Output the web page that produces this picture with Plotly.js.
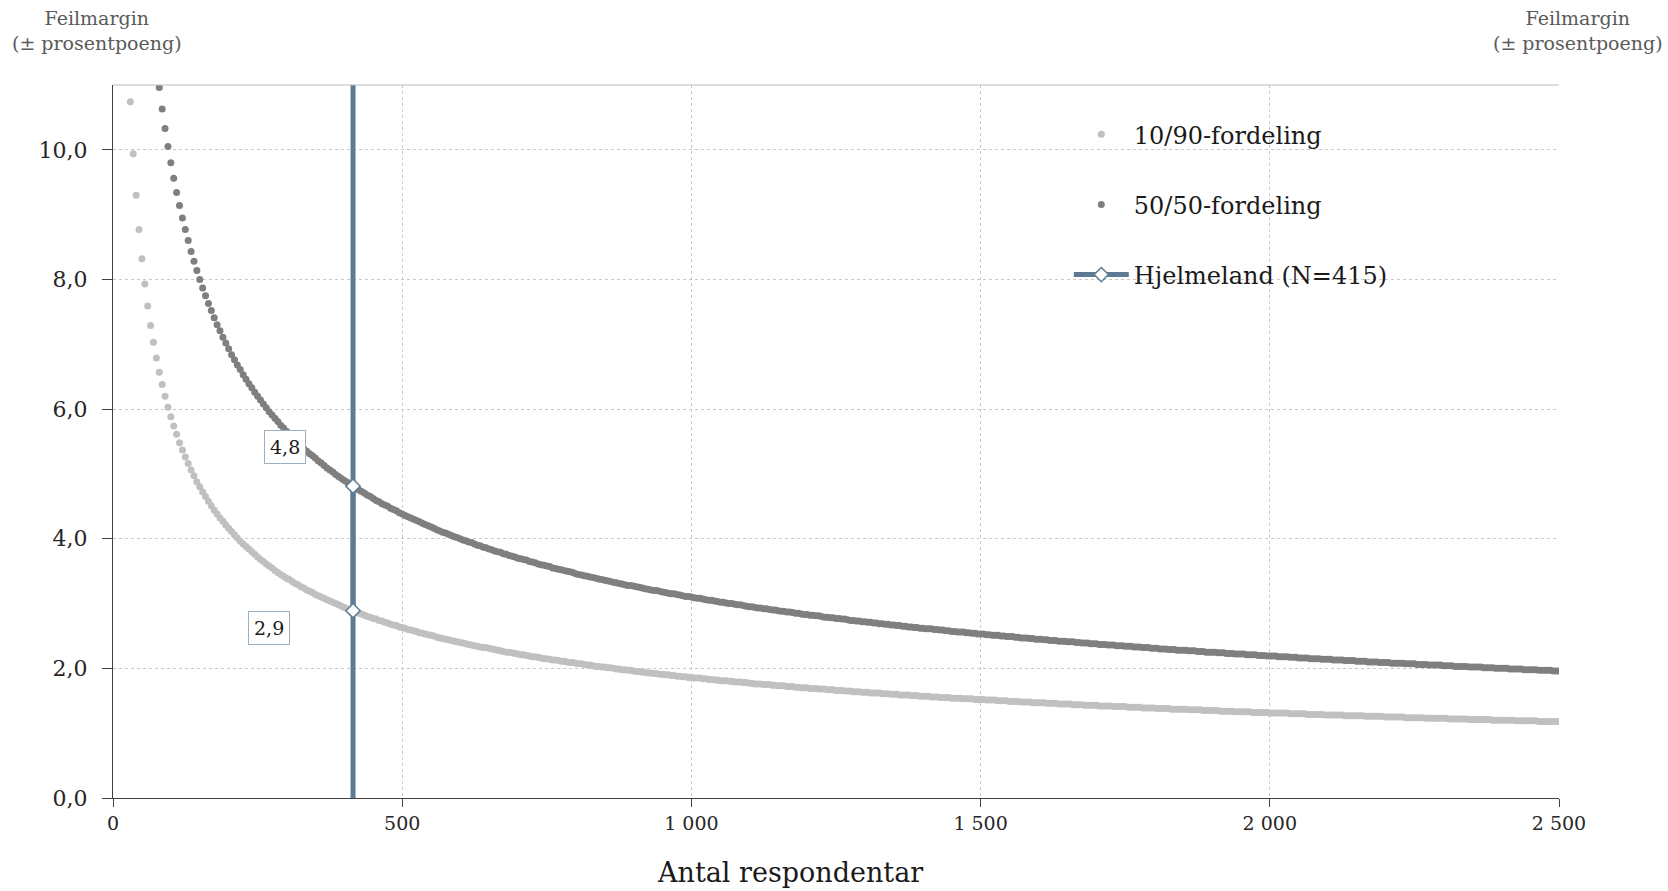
<!DOCTYPE html>
<html>
<head>
<meta charset="utf-8">
<script src="https://cdn.plot.ly/plotly-3.0.1.min.js"></script>
<style>html,body{margin:0;padding:0;background:#fff;}#chart{width:1668px;height:891px;}</style>
</head>
<body>
<div id="chart"></div>
<script>
// Antal respondentar (n), step 5
const respondentar = [
30,35,40,45,50,55,60,65,70,75,80,85,90,95,100,105,110,115,120,125,
130,135,140,145,150,155,160,165,170,175,180,185,190,195,200,205,210,215,220,225,
230,235,240,245,250,255,260,265,270,275,280,285,290,295,300,305,310,315,320,325,
330,335,340,345,350,355,360,365,370,375,380,385,390,395,400,405,410,415,420,425,
430,435,440,445,450,455,460,465,470,475,480,485,490,495,500,505,510,515,520,525,
530,535,540,545,550,555,560,565,570,575,580,585,590,595,600,605,610,615,620,625,
630,635,640,645,650,655,660,665,670,675,680,685,690,695,700,705,710,715,720,725,
730,735,740,745,750,755,760,765,770,775,780,785,790,795,800,805,810,815,820,825,
830,835,840,845,850,855,860,865,870,875,880,885,890,895,900,905,910,915,920,925,
930,935,940,945,950,955,960,965,970,975,980,985,990,995,1000,1005,1010,1015,1020,1025,
1030,1035,1040,1045,1050,1055,1060,1065,1070,1075,1080,1085,1090,1095,1100,1105,1110,1115,1120,1125,
1130,1135,1140,1145,1150,1155,1160,1165,1170,1175,1180,1185,1190,1195,1200,1205,1210,1215,1220,1225,
1230,1235,1240,1245,1250,1255,1260,1265,1270,1275,1280,1285,1290,1295,1300,1305,1310,1315,1320,1325,
1330,1335,1340,1345,1350,1355,1360,1365,1370,1375,1380,1385,1390,1395,1400,1405,1410,1415,1420,1425,
1430,1435,1440,1445,1450,1455,1460,1465,1470,1475,1480,1485,1490,1495,1500,1505,1510,1515,1520,1525,
1530,1535,1540,1545,1550,1555,1560,1565,1570,1575,1580,1585,1590,1595,1600,1605,1610,1615,1620,1625,
1630,1635,1640,1645,1650,1655,1660,1665,1670,1675,1680,1685,1690,1695,1700,1705,1710,1715,1720,1725,
1730,1735,1740,1745,1750,1755,1760,1765,1770,1775,1780,1785,1790,1795,1800,1805,1810,1815,1820,1825,
1830,1835,1840,1845,1850,1855,1860,1865,1870,1875,1880,1885,1890,1895,1900,1905,1910,1915,1920,1925,
1930,1935,1940,1945,1950,1955,1960,1965,1970,1975,1980,1985,1990,1995,2000,2005,2010,2015,2020,2025,
2030,2035,2040,2045,2050,2055,2060,2065,2070,2075,2080,2085,2090,2095,2100,2105,2110,2115,2120,2125,
2130,2135,2140,2145,2150,2155,2160,2165,2170,2175,2180,2185,2190,2195,2200,2205,2210,2215,2220,2225,
2230,2235,2240,2245,2250,2255,2260,2265,2270,2275,2280,2285,2290,2295,2300,2305,2310,2315,2320,2325,
2330,2335,2340,2345,2350,2355,2360,2365,2370,2375,2380,2385,2390,2395,2400,2405,2410,2415,2420,2425,
2430,2435,2440,2445,2450,2455,2460,2465,2470,2475,2480,2485,2490,2495,2500
];

// Feilmargin 10/90-fordeling, n = 30 ... 2500
const fordeling1090 = [
10.74,9.94,9.30,8.77,8.32,7.93,7.59,7.29,7.03,6.79,
6.57,6.38,6.20,6.03,5.88,5.74,5.61,5.48,5.37,5.26,
5.16,5.06,4.97,4.88,4.80,4.72,4.65,4.58,4.51,4.44,
4.38,4.32,4.27,4.21,4.16,4.11,4.06,4.01,3.96,3.92,
3.88,3.84,3.80,3.76,3.72,3.68,3.65,3.61,3.58,3.55,
3.51,3.48,3.45,3.42,3.39,3.37,3.34,3.31,3.29,3.26,
3.24,3.21,3.19,3.17,3.14,3.12,3.10,3.08,3.06,3.04,
3.02,3.00,2.98,2.96,2.94,2.92,2.90,2.89,2.87,2.85,
2.84,2.82,2.80,2.79,2.77,2.76,2.74,2.73,2.71,2.70,
2.68,2.67,2.66,2.64,2.63,2.62,2.60,2.59,2.58,2.57,
2.55,2.54,2.53,2.52,2.51,2.50,2.48,2.47,2.46,2.45,
2.44,2.43,2.42,2.41,2.40,2.39,2.38,2.37,2.36,2.35,
2.34,2.33,2.32,2.32,2.31,2.30,2.29,2.28,2.27,2.26,
2.25,2.25,2.24,2.23,2.22,2.21,2.21,2.20,2.19,2.18,
2.18,2.17,2.16,2.15,2.15,2.14,2.13,2.13,2.12,2.11,
2.11,2.10,2.09,2.09,2.08,2.07,2.07,2.06,2.05,2.05,
2.04,2.03,2.03,2.02,2.02,2.01,2.01,2.00,1.99,1.99,
1.98,1.98,1.97,1.97,1.96,1.95,1.95,1.94,1.94,1.93,
1.93,1.92,1.92,1.91,1.91,1.90,1.90,1.89,1.89,1.88,
1.88,1.87,1.87,1.86,1.86,1.85,1.85,1.85,1.84,1.84,
1.83,1.83,1.82,1.82,1.81,1.81,1.81,1.80,1.80,1.79,
1.79,1.79,1.78,1.78,1.77,1.77,1.76,1.76,1.76,1.75,
1.75,1.75,1.74,1.74,1.73,1.73,1.73,1.72,1.72,1.72,
1.71,1.71,1.70,1.70,1.70,1.69,1.69,1.69,1.68,1.68,
1.68,1.67,1.67,1.67,1.66,1.66,1.66,1.65,1.65,1.65,
1.64,1.64,1.64,1.63,1.63,1.63,1.62,1.62,1.62,1.62,
1.61,1.61,1.61,1.60,1.60,1.60,1.59,1.59,1.59,1.59,
1.58,1.58,1.58,1.57,1.57,1.57,1.57,1.56,1.56,1.56,
1.55,1.55,1.55,1.55,1.54,1.54,1.54,1.54,1.53,1.53,
1.53,1.53,1.52,1.52,1.52,1.52,1.51,1.51,1.51,1.51,
1.50,1.50,1.50,1.50,1.49,1.49,1.49,1.49,1.48,1.48,
1.48,1.48,1.47,1.47,1.47,1.47,1.47,1.46,1.46,1.46,
1.46,1.45,1.45,1.45,1.45,1.45,1.44,1.44,1.44,1.44,
1.43,1.43,1.43,1.43,1.43,1.42,1.42,1.42,1.42,1.42,
1.41,1.41,1.41,1.41,1.41,1.40,1.40,1.40,1.40,1.40,
1.39,1.39,1.39,1.39,1.39,1.38,1.38,1.38,1.38,1.38,
1.37,1.37,1.37,1.37,1.37,1.37,1.36,1.36,1.36,1.36,
1.36,1.35,1.35,1.35,1.35,1.35,1.35,1.34,1.34,1.34,
1.34,1.34,1.33,1.33,1.33,1.33,1.33,1.33,1.32,1.32,
1.32,1.32,1.32,1.32,1.31,1.31,1.31,1.31,1.31,1.31,
1.31,1.30,1.30,1.30,1.30,1.30,1.30,1.29,1.29,1.29,
1.29,1.29,1.29,1.28,1.28,1.28,1.28,1.28,1.28,1.28,
1.27,1.27,1.27,1.27,1.27,1.27,1.27,1.26,1.26,1.26,
1.26,1.26,1.26,1.26,1.25,1.25,1.25,1.25,1.25,1.25,
1.25,1.24,1.24,1.24,1.24,1.24,1.24,1.24,1.23,1.23,
1.23,1.23,1.23,1.23,1.23,1.23,1.22,1.22,1.22,1.22,
1.22,1.22,1.22,1.21,1.21,1.21,1.21,1.21,1.21,1.21,
1.21,1.20,1.20,1.20,1.20,1.20,1.20,1.20,1.20,1.19,
1.19,1.19,1.19,1.19,1.19,1.19,1.19,1.18,1.18,1.18,
1.18,1.18,1.18,1.18,1.18
];

// Feilmargin 50/50-fordeling, n = 80 ... 2500
const fordeling5050 = [
10.96,10.63,10.33,10.05,9.80,9.56,9.34,9.14,8.95,8.77,
8.60,8.43,8.28,8.14,8.00,7.87,7.75,7.63,7.52,7.41,
7.30,7.21,7.11,7.02,6.93,6.84,6.76,6.68,6.61,6.53,
6.46,6.39,6.33,6.26,6.20,6.14,6.08,6.02,5.96,5.91,
5.86,5.81,5.75,5.71,5.66,5.61,5.57,5.52,5.48,5.44,
5.39,5.35,5.31,5.28,5.24,5.20,5.17,5.13,5.09,5.06,
5.03,4.99,4.96,4.93,4.90,4.87,4.84,4.81,4.78,4.75,
4.73,4.70,4.67,4.65,4.62,4.59,4.57,4.54,4.52,4.50,
4.47,4.45,4.43,4.40,4.38,4.36,4.34,4.32,4.30,4.28,
4.26,4.24,4.22,4.20,4.18,4.16,4.14,4.12,4.10,4.09,
4.07,4.05,4.03,4.02,4.00,3.98,3.97,3.95,3.94,3.92,
3.90,3.89,3.87,3.86,3.84,3.83,3.81,3.80,3.79,3.77,
3.76,3.74,3.73,3.72,3.70,3.69,3.68,3.67,3.65,3.64,
3.63,3.61,3.60,3.59,3.58,3.57,3.55,3.54,3.53,3.52,
3.51,3.50,3.49,3.48,3.46,3.45,3.44,3.43,3.42,3.41,
3.40,3.39,3.38,3.37,3.36,3.35,3.34,3.33,3.32,3.31,
3.30,3.29,3.28,3.28,3.27,3.26,3.25,3.24,3.23,3.22,
3.21,3.20,3.20,3.19,3.18,3.17,3.16,3.15,3.15,3.14,
3.13,3.12,3.11,3.11,3.10,3.09,3.08,3.08,3.07,3.06,
3.05,3.05,3.04,3.03,3.02,3.02,3.01,3.00,3.00,2.99,
2.98,2.98,2.97,2.96,2.95,2.95,2.94,2.93,2.93,2.92,
2.92,2.91,2.90,2.90,2.89,2.88,2.88,2.87,2.87,2.86,
2.85,2.85,2.84,2.83,2.83,2.82,2.82,2.81,2.81,2.80,
2.79,2.79,2.78,2.78,2.77,2.77,2.76,2.76,2.75,2.74,
2.74,2.73,2.73,2.72,2.72,2.71,2.71,2.70,2.70,2.69,
2.69,2.68,2.68,2.67,2.67,2.66,2.66,2.65,2.65,2.64,
2.64,2.63,2.63,2.62,2.62,2.61,2.61,2.61,2.60,2.60,
2.59,2.59,2.58,2.58,2.57,2.57,2.56,2.56,2.56,2.55,
2.55,2.54,2.54,2.53,2.53,2.53,2.52,2.52,2.51,2.51,
2.51,2.50,2.50,2.49,2.49,2.49,2.48,2.48,2.47,2.47,
2.47,2.46,2.46,2.45,2.45,2.45,2.44,2.44,2.43,2.43,
2.43,2.42,2.42,2.42,2.41,2.41,2.41,2.40,2.40,2.39,
2.39,2.39,2.38,2.38,2.38,2.37,2.37,2.37,2.36,2.36,
2.36,2.35,2.35,2.35,2.34,2.34,2.34,2.33,2.33,2.33,
2.32,2.32,2.32,2.31,2.31,2.31,2.30,2.30,2.30,2.29,
2.29,2.29,2.28,2.28,2.28,2.28,2.27,2.27,2.27,2.26,
2.26,2.26,2.25,2.25,2.25,2.25,2.24,2.24,2.24,2.23,
2.23,2.23,2.22,2.22,2.22,2.22,2.21,2.21,2.21,2.21,
2.20,2.20,2.20,2.19,2.19,2.19,2.19,2.18,2.18,2.18,
2.18,2.17,2.17,2.17,2.16,2.16,2.16,2.16,2.15,2.15,
2.15,2.15,2.14,2.14,2.14,2.14,2.13,2.13,2.13,2.13,
2.12,2.12,2.12,2.12,2.11,2.11,2.11,2.11,2.10,2.10,
2.10,2.10,2.09,2.09,2.09,2.09,2.08,2.08,2.08,2.08,
2.08,2.07,2.07,2.07,2.07,2.06,2.06,2.06,2.06,2.05,
2.05,2.05,2.05,2.05,2.04,2.04,2.04,2.04,2.03,2.03,
2.03,2.03,2.03,2.02,2.02,2.02,2.02,2.02,2.01,2.01,
2.01,2.01,2.00,2.00,2.00,2.00,2.00,1.99,1.99,1.99,
1.99,1.99,1.98,1.98,1.98,1.98,1.98,1.97,1.97,1.97,
1.97,1.97,1.96,1.96,1.96
];

const seriesNames = ['10/90-fordeling', '50/50-fordeling', 'Hjelmeland (N=415)'];
const hjelmelandN = 415;
const yTicks = [0, 2, 4, 6, 8, 10];
const xTicks = [0, 500, 1000, 1500, 2000, 2500];
const yRange = [0, 11];
const xRange = [0, 2500];

// derived
const x5050 = respondentar.slice(respondentar.length - fordeling5050.length);
const idx1090 = respondentar.indexOf(hjelmelandN);
const idx5050 = x5050.indexOf(hjelmelandN);
const m1090 = fordeling1090[idx1090];
const m5050 = fordeling5050[idx5050];
const fmt = v => v.toFixed(1).replace('.', ',');

const FONT = 'DejaVu Serif';
const BLUE = '#5e7b93';

const traces = [
  {
    x: respondentar, y: fordeling1090, type: 'scatter', mode: 'markers',
    name: seriesNames[0], legendgroup: 'a',
    marker: {color: '#c0c0c0', size: 7, line: {width: 0}}
  },
  {
    x: x5050, y: fordeling5050, type: 'scatter', mode: 'markers',
    name: seriesNames[1], legendgroup: 'b',
    marker: {color: '#7f7f7f', size: 7, line: {width: 0}}
  },
  {
    x: [hjelmelandN, hjelmelandN], y: yRange, type: 'scatter', mode: 'lines',
    name: seriesNames[2], legendgroup: 'c', showlegend: false,
    line: {color: BLUE, width: 5}, hoverinfo: 'skip'
  },
  {
    x: [hjelmelandN, hjelmelandN], y: [m1090, m5050], type: 'scatter', mode: 'lines+markers',
    name: seriesNames[2], legendgroup: 'c',
    line: {color: BLUE, width: 5},
    marker: {symbol: 'diamond', size: 11, color: '#ffffff', line: {color: BLUE, width: 1.5}}
  }
];

const axisCommon = {
  showline: true, linecolor: '#404040', linewidth: 1,
  ticks: 'outside', ticklen: 10, tickcolor: '#404040', tickwidth: 1,
  zeroline: false, fixedrange: true
};

const layout = {
  width: 1668, height: 891,
  margin: {l: 113, r: 109, t: 85, b: 93, pad: 0},
  paper_bgcolor: '#ffffff', plot_bgcolor: '#ffffff',
  separators: ', ',
  font: {family: FONT, color: '#262626'},
  xaxis: Object.assign({}, axisCommon, {
    range: xRange, tickvals: xTicks, separatethousands: true,
    showgrid: true, gridcolor: '#c9c9c9', gridwidth: 1, griddash: '3px,3px',
    ticklen: 8, tickfont: {family: FONT, size: 19, color: '#262626'}
  }),
  yaxis: Object.assign({}, axisCommon, {
    range: yRange, tickvals: yTicks, tickformat: '.1f',
    showgrid: true, gridcolor: '#c9c9c9', gridwidth: 1, griddash: '3px,3px',
    tickfont: {family: FONT, size: 22, color: '#262626'}, ticklabelstandoff: 10
  }),
  yaxis2: Object.assign({}, axisCommon, {
    range: yRange, tickvals: yTicks, tickformat: '.1f', overlaying: 'y', side: 'right', anchor: 'x',
    showgrid: false, tickfont: {family: FONT, size: 22, color: '#262626'}, ticklabelstandoff: 20
  }),
  showlegend: true,
  legend: {
    x: 0.661, y: 0.962, xanchor: 'left', yanchor: 'top',
    bgcolor: 'rgba(0,0,0,0)', borderwidth: 0,
    font: {family: FONT, size: 24, color: '#1a1a1a'},
    traceorder: 'grouped', tracegroupgap: 36, itemwidth: 55
  },
  shapes: [
    {type: 'line', xref: 'paper', yref: 'paper', x0: 0, x1: 1, y0: 1, y1: 1,
     line: {color: '#bdbdbd', width: 1}}
  ],
  annotations: [
    {text: 'Feilmargin<br>(± prosentpoeng)', xref: 'paper', yref: 'paper', x: -0.011, y: 1.077,
     xanchor: 'center', yanchor: 'middle', showarrow: false,
     font: {family: FONT, size: 19, color: '#5a5a5a'}},
    {text: 'Feilmargin<br>(± prosentpoeng)', xref: 'paper', yref: 'paper', x: 1.0131, y: 1.077,
     xanchor: 'center', yanchor: 'middle', showarrow: false,
     font: {family: FONT, size: 19, color: '#5a5a5a'}},
    {text: 'Antal respondentar', xref: 'paper', yref: 'paper', x: 0.468, y: -0.104,
     xanchor: 'center', yanchor: 'middle', showarrow: false,
     font: {family: FONT, size: 27, color: '#1a1a1a'}},
    {text: fmt(m5050), xref: 'x', yref: 'y', x: 297, y: 5.42, showarrow: false,
     xanchor: 'center', yanchor: 'middle',
     bgcolor: '#ffffff', bordercolor: '#9db0c2', borderwidth: 1, borderpad: 5,
     font: {family: FONT, size: 19, color: '#1a1a1a'}},
    {text: fmt(m1090), xref: 'x', yref: 'y', x: 270, y: 2.63, showarrow: false,
     xanchor: 'center', yanchor: 'middle',
     bgcolor: '#ffffff', bordercolor: '#9db0c2', borderwidth: 1, borderpad: 5,
     font: {family: FONT, size: 19, color: '#1a1a1a'}}
  ]
};

Plotly.newPlot('chart', traces, layout, {displayModeBar: false, staticPlot: true});
</script>
</body>
</html>
